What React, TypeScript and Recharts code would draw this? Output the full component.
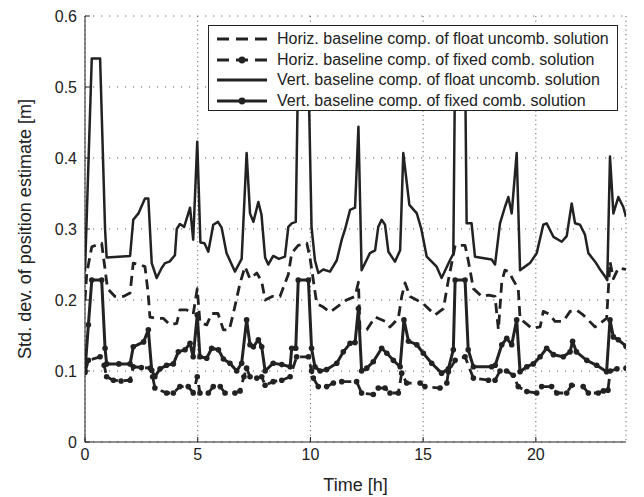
import React from 'react'
import { LineChart, Line, XAxis, YAxis, CartesianGrid, Legend } from 'recharts'

const ink = '#222'
const font = '"Liberation Sans", Arial, Helvetica, sans-serif'

const xTicks = [0, 5, 10, 15, 20]
const yTicks = [0, 0.1, 0.2, 0.3, 0.4, 0.5, 0.6]

const legendLabels = [
  'Horiz. baseline comp. of float uncomb. solution',
  'Horiz. baseline comp. of fixed comb. solution',
  'Vert. baseline comp. of float uncomb. solution',
  'Vert. baseline comp. of fixed comb. solution',
]

// [time in h, std. dev. in m]
const hFloat: [number, number][] = [
  [0, 0.2], [0.08, 0.238], [0.3, 0.275], [0.74, 0.28], [1.0, 0.216], [1.33, 0.205], [1.7, 0.205],
  [2.0, 0.21], [2.14, 0.252], [2.4, 0.25], [2.66, 0.247], [2.8, 0.21], [2.88, 0.176], [3.18, 0.174],
  [3.48, 0.174], [3.77, 0.165], [4.07, 0.167], [4.21, 0.186], [4.51, 0.186], [4.8, 0.18], [4.98, 0.216],
  [5.1, 0.168], [5.4, 0.165], [5.62, 0.181], [5.9, 0.181], [6.14, 0.158], [6.4, 0.158], [6.58, 0.181],
  [6.88, 0.224], [7.1, 0.247], [7.32, 0.23], [7.62, 0.238], [7.84, 0.226], [7.99, 0.2], [8.3, 0.205],
  [8.65, 0.205], [9.02, 0.236], [9.17, 0.266], [9.46, 0.277], [9.84, 0.28], [9.98, 0.26], [10.28, 0.195],
  [10.57, 0.19], [10.87, 0.183], [11.17, 0.19], [11.6, 0.2], [11.98, 0.205], [12.13, 0.225], [12.2, 0.158],
  [12.5, 0.158], [12.87, 0.176], [13.31, 0.17], [13.53, 0.162], [13.9, 0.174], [14.05, 0.205],
  [14.2, 0.224], [14.42, 0.205], [14.72, 0.2], [15.0, 0.195], [15.53, 0.179], [15.9, 0.188], [16.12, 0.228],
  [16.27, 0.252], [16.42, 0.277], [16.86, 0.277], [17.0, 0.256], [17.23, 0.216], [17.6, 0.205],
  [17.9, 0.207], [18.19, 0.205], [18.34, 0.158], [18.49, 0.226], [18.63, 0.242], [18.8, 0.24],
  [19.0, 0.228], [19.22, 0.216], [19.3, 0.174], [19.82, 0.16], [20.19, 0.162], [20.33, 0.184],
  [20.6, 0.18], [20.85, 0.17], [21.22, 0.17], [21.52, 0.184], [21.8, 0.186], [22.1, 0.179], [22.63, 0.162],
  [23.14, 0.174], [23.29, 0.254], [23.44, 0.23], [23.66, 0.245], [24, 0.243],
]

const hFixed: [number, number][] = [
  [0, 0.098], [0.15, 0.115], [0.67, 0.12], [0.85, 0.108], [0.96, 0.092], [1.26, 0.087], [1.6, 0.086],
  [2.0, 0.087], [2.14, 0.106], [2.5, 0.105], [2.9, 0.104], [3.0, 0.092], [3.1, 0.076], [3.62, 0.069],
  [3.92, 0.069], [4.21, 0.078], [4.58, 0.078], [4.8, 0.069], [4.98, 0.092], [5.1, 0.069], [5.47, 0.069],
  [5.69, 0.078], [6.0, 0.078], [6.21, 0.069], [6.65, 0.069], [6.88, 0.072], [7.05, 0.092], [7.17, 0.104],
  [7.32, 0.092], [7.62, 0.09], [7.84, 0.092], [7.99, 0.08], [8.35, 0.085], [8.73, 0.087], [9.1, 0.092],
  [9.39, 0.12], [9.91, 0.12], [10.05, 0.1], [10.13, 0.09], [10.35, 0.078], [10.72, 0.078], [11.02, 0.083],
  [11.39, 0.085], [12.05, 0.085], [12.27, 0.069], [12.79, 0.067], [13.01, 0.076], [13.31, 0.076],
  [13.53, 0.069], [13.9, 0.069], [14.05, 0.097], [14.27, 0.083], [14.87, 0.083], [15.08, 0.078],
  [15.75, 0.076], [16.05, 0.083], [16.12, 0.099], [16.42, 0.115], [16.86, 0.12], [17.23, 0.09],
  [17.9, 0.087], [18.19, 0.087], [18.41, 0.1], [18.7, 0.1], [19.0, 0.094], [19.22, 0.078], [19.6, 0.071],
  [20.04, 0.069], [20.26, 0.078], [20.7, 0.078], [20.93, 0.069], [21.37, 0.069], [21.59, 0.08],
  [22.1, 0.078], [22.33, 0.069], [22.77, 0.069], [23.0, 0.072], [23.2, 0.073], [23.3, 0.1], [23.6, 0.103],
  [24, 0.104],
]

const vFloat: [number, number][] = [
  [0, 0.24], [0.3, 0.54], [0.67, 0.54], [0.89, 0.3], [0.96, 0.26], [2.0, 0.262], [2.14, 0.313],
  [2.37, 0.322], [2.66, 0.343], [2.81, 0.343], [2.96, 0.252], [3.18, 0.231], [3.4, 0.245], [3.55, 0.252],
  [3.75, 0.254], [3.99, 0.263], [4.07, 0.3], [4.21, 0.307], [4.4, 0.303], [4.66, 0.33], [4.8, 0.285],
  [4.98, 0.423], [5.12, 0.281], [5.3, 0.28], [5.47, 0.268], [5.69, 0.306], [5.9, 0.31], [6.06, 0.302],
  [6.28, 0.266], [6.65, 0.24], [6.95, 0.258], [7.17, 0.407], [7.32, 0.322], [7.47, 0.31], [7.69, 0.338],
  [7.83, 0.32], [7.99, 0.26], [8.13, 0.25], [8.35, 0.262], [8.6, 0.258], [8.87, 0.261], [9.02, 0.303],
  [9.17, 0.308], [9.35, 0.31], [9.46, 0.54], [9.9, 0.54], [10.05, 0.303], [10.2, 0.256], [10.35, 0.238],
  [10.57, 0.243], [10.87, 0.24], [11.17, 0.256], [11.39, 0.285], [11.54, 0.3], [11.76, 0.327],
  [11.98, 0.33], [12.13, 0.444], [12.27, 0.242], [12.64, 0.266], [12.87, 0.27], [13.01, 0.303],
  [13.16, 0.313], [13.31, 0.306], [13.46, 0.268], [13.75, 0.254], [13.98, 0.27], [14.12, 0.407],
  [14.39, 0.334], [14.72, 0.322], [14.92, 0.3], [15.16, 0.261], [15.6, 0.247], [15.82, 0.231],
  [16.19, 0.256], [16.34, 0.265], [16.42, 0.54], [16.86, 0.54], [16.93, 0.308], [17.15, 0.308],
  [17.3, 0.261], [18.04, 0.257], [18.19, 0.25], [18.41, 0.308], [18.63, 0.331], [18.78, 0.345],
  [18.93, 0.322], [19.15, 0.407], [19.3, 0.242], [19.52, 0.247], [19.74, 0.252], [20.04, 0.266],
  [20.33, 0.306], [20.48, 0.308], [20.78, 0.289], [21.15, 0.282], [21.37, 0.29], [21.59, 0.336],
  [21.74, 0.308], [21.96, 0.306], [22.18, 0.292], [22.33, 0.266], [22.63, 0.254], [22.85, 0.243],
  [23.07, 0.233], [23.17, 0.228], [23.29, 0.402], [23.44, 0.322], [23.66, 0.345], [23.88, 0.331],
  [24, 0.317],
]

const vFixed: [number, number][] = [
  [0, 0.1], [0.15, 0.165], [0.3, 0.228], [0.74, 0.228], [0.89, 0.132], [0.96, 0.11], [1.5, 0.11],
  [2.0, 0.11], [2.14, 0.134], [2.6, 0.141], [2.81, 0.158], [2.96, 0.101], [3.1, 0.092], [3.33, 0.103],
  [3.62, 0.108], [3.92, 0.11], [4.14, 0.127], [4.44, 0.13], [4.66, 0.139], [4.8, 0.12], [4.98, 0.179],
  [5.1, 0.12], [5.4, 0.118], [5.62, 0.132], [5.92, 0.13], [6.14, 0.117], [6.43, 0.111], [6.73, 0.1],
  [6.95, 0.111], [7.17, 0.172], [7.32, 0.137], [7.47, 0.134], [7.69, 0.144], [7.84, 0.134], [7.99, 0.1],
  [8.35, 0.111], [8.73, 0.109], [9.1, 0.106], [9.17, 0.132], [9.35, 0.132], [9.46, 0.228], [9.91, 0.228],
  [10.05, 0.132], [10.2, 0.106], [10.43, 0.1], [10.72, 0.102], [11.17, 0.111], [11.46, 0.127],
  [11.76, 0.139], [11.98, 0.14], [12.13, 0.188], [12.27, 0.1], [12.5, 0.104], [12.79, 0.113],
  [13.16, 0.132], [13.39, 0.125], [13.68, 0.115], [13.98, 0.106], [14.15, 0.172], [14.35, 0.142],
  [14.72, 0.137], [15.01, 0.125], [15.38, 0.111], [15.82, 0.097], [16.12, 0.103], [16.34, 0.13],
  [16.42, 0.228], [16.86, 0.228], [17.0, 0.13], [17.23, 0.106], [18.04, 0.106], [18.2, 0.108],
  [18.49, 0.137], [18.71, 0.146], [18.93, 0.137], [19.15, 0.172], [19.3, 0.099], [19.6, 0.106],
  [19.89, 0.11], [20.19, 0.12], [20.48, 0.132], [20.78, 0.123], [21.22, 0.12], [21.52, 0.127],
  [21.63, 0.142], [21.8, 0.127], [22.26, 0.115], [22.7, 0.108], [23.14, 0.099], [23.29, 0.172],
  [23.44, 0.148], [23.66, 0.144], [24, 0.135],
]

const toPoints = (arr: [number, number][]) => arr.map(([t, v]) => ({ t, v }))

const series = [
  { data: toPoints(hFloat), width: 2.8, dash: '10 6', dots: false },
  { data: toPoints(hFixed), width: 2.8, dash: '10 6', dots: true },
  { data: toPoints(vFloat), width: 2.5, dash: undefined, dots: false },
  { data: toPoints(vFixed), width: 3, dash: undefined, dots: true },
]

const renderDot = (props: any) => (
  <circle key={`d-${props.index}`} cx={props.cx} cy={props.cy} r={2.8} fill={ink} />
)

function LegendBox() {
  return (
    <div
      style={{
        width: 410,
        height: 86,
        boxSizing: 'border-box',
        border: `1px solid ${ink}`,
        background: '#fff',
        paddingTop: 3,
        fontFamily: font,
        fontSize: 16,
        color: ink,
      }}
    >
      {legendLabels.map((label, i) => (
        <div key={label} style={{ display: 'flex', alignItems: 'center', height: 20.5 }}>
          <svg width={59} height={12} style={{ flex: 'none' }}>
            <line
              x1={8}
              x2={58}
              y1={6}
              y2={6}
              stroke={ink}
              strokeWidth={3}
              strokeDasharray={series[i].dash ? '12 7' : undefined}
            />
            {series[i].dots && <circle cx={33} cy={6} r={3.4} fill={ink} />}
          </svg>
          <span style={{ marginLeft: 9, whiteSpace: 'nowrap', lineHeight: '20px' }}>{label}</span>
        </div>
      ))}
    </div>
  )
}

const tickStyle = { fontSize: 16, fill: ink, fontFamily: font }

export default function App() {
  return (
    <div style={{ position: 'absolute', left: 0, top: 0, background: '#fff' }}>
      <LineChart width={644} height={497} margin={{ top: 16, right: 18, left: 0, bottom: 0 }}>
        <CartesianGrid vertical={false} stroke="#666" strokeDasharray="1.2 6.8" />
        <CartesianGrid horizontal={false} stroke="#666" strokeDasharray="1.2 3.3" />
        <XAxis
          dataKey="t"
          type="number"
          domain={[0, 24]}
          ticks={xTicks}
          allowDataOverflow
          height={55}
          stroke={ink}
          tickSize={-5}
          tickMargin={12}
          tick={tickStyle}
          label={{
            value: 'Time [h]',
            position: 'insideBottom',
            offset: 6,
            style: { fontSize: 18, fill: ink, fontFamily: font },
          }}
        />
        <XAxis
          xAxisId="top"
          orientation="top"
          type="number"
          domain={[0, 24]}
          ticks={xTicks}
          allowDataOverflow
          height={0}
          stroke={ink}
          tickSize={-5}
          tick={false}
        />
        <YAxis
          type="number"
          domain={[0, 0.6]}
          ticks={yTicks}
          allowDataOverflow
          width={85}
          stroke={ink}
          tickSize={-5}
          tickMargin={13}
          tick={tickStyle}
          tickFormatter={(v: number) => String(v)}
          label={{
            value: 'Std. dev. of position estimate [m]',
            angle: -90,
            position: 'insideLeft',
            offset: 25,
            style: { fontSize: 18, fill: ink, fontFamily: font, textAnchor: 'middle' },
          }}
        />
        <YAxis
          yAxisId="right"
          orientation="right"
          type="number"
          domain={[0, 0.6]}
          ticks={yTicks}
          allowDataOverflow
          width={0}
          stroke={ink}
          tickSize={-5}
          tick={false}
        />
        {series.map((s, i) => (
          <Line
            key={i}
            data={s.data}
            dataKey="v"
            type="linear"
            stroke={ink}
            strokeWidth={s.width}
            strokeDasharray={s.dash}
            strokeLinejoin="round"
            dot={s.dots ? renderDot : false}
            activeDot={false}
            isAnimationActive={false}
          />
        ))}
        <Legend
          content={<LegendBox />}
          layout="vertical"
          align="center"
          verticalAlign="middle"
          wrapperStyle={{ left: 208, top: 25, width: 410 }}
        />
      </LineChart>
    </div>
  )
}
